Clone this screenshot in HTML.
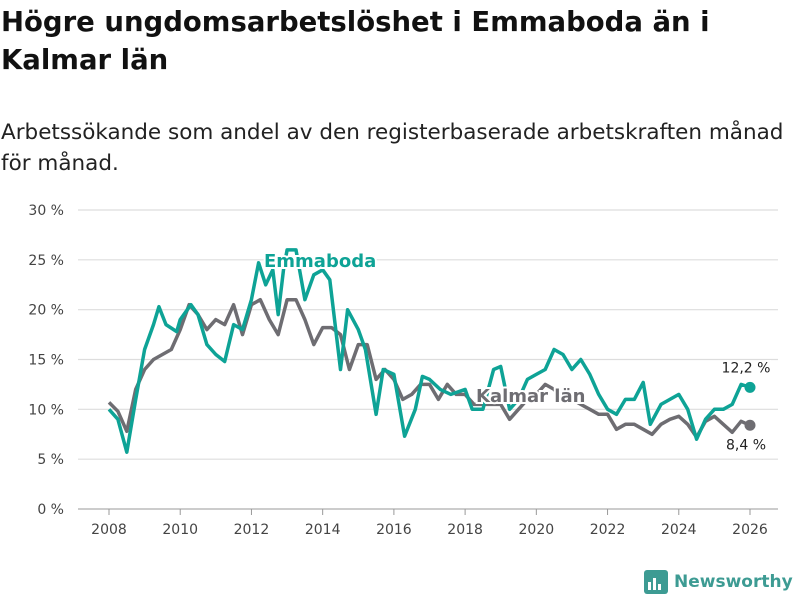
<!DOCTYPE html>
<html><head><meta charset="utf-8"><style>
body{margin:0;width:800px;height:600px;background:#fff;font-family:"DejaVu Sans","Liberation Sans",sans-serif;overflow:hidden;position:relative}
h1{position:absolute;left:1px;top:3px;margin:0;font-size:27.5px;line-height:38px;font-weight:bold;color:#111;white-space:nowrap;letter-spacing:0px}
.sub{position:absolute;left:1px;top:117px;font-size:21.5px;line-height:31px;color:#222;white-space:nowrap}
svg{position:absolute;left:0;top:0}
</style></head><body>
<h1>Högre ungdomsarbetslöshet i Emmaboda än i<br>Kalmar län</h1>
<div class="sub">Arbetssökande som andel av den registerbaserade arbetskraften månad<br>för månad.</div>
<svg id="c" width="800" height="600"></svg>
<script>
const yTicks=[0,5,10,15,20,25,30];
const xTicks=[2008,2010,2012,2014,2016,2018,2020,2022,2024,2026];
const emmaDates=[2008.0,2008.25,2008.5,2008.75,2009.0,2009.25,2009.4,2009.6,2009.9,2010.0,2010.3,2010.5,2010.75,2011.0,2011.25,2011.5,2011.75,2012.0,2012.2,2012.4,2012.6,2012.75,2012.9,2013.0,2013.25,2013.5,2013.75,2014.0,2014.2,2014.5,2014.7,2015.0,2015.2,2015.5,2015.7,2016.0,2016.3,2016.6,2016.8,2017.0,2017.3,2017.6,2018.0,2018.2,2018.5,2018.8,2019.0,2019.25,2019.5,2019.75,2020.0,2020.25,2020.5,2020.75,2021.0,2021.25,2021.5,2021.75,2022.0,2022.25,2022.5,2022.75,2023.0,2023.2,2023.5,2023.75,2024.0,2024.25,2024.5,2024.75,2025.0,2025.25,2025.5,2025.75,2026.0];
const emmaValues=[10,9,5.7,11,16,18.5,20.3,18.5,17.8,19,20.5,19.5,16.5,15.5,14.8,18.5,18,21,24.7,22.5,24,19.5,24,26,26,21,23.5,24,23,14,20,18,16,9.5,14,13.5,7.3,10,13.3,13,12,11.5,12,10,10,14,14.3,10,11,13,13.5,14,16,15.5,14,15,13.5,11.5,10,9.5,11,11,12.7,8.5,10.5,11,11.5,10,7,9,10,10,10.5,12.5,12.2];
const kalmarDates=[2008.0,2008.25,2008.5,2008.75,2009.0,2009.25,2009.5,2009.75,2010.0,2010.25,2010.5,2010.75,2011.0,2011.25,2011.5,2011.75,2012.0,2012.25,2012.5,2012.75,2013.0,2013.25,2013.5,2013.75,2014.0,2014.25,2014.5,2014.75,2015.0,2015.25,2015.5,2015.75,2016.0,2016.25,2016.5,2016.75,2017.0,2017.25,2017.5,2017.75,2018.0,2018.25,2018.5,2018.75,2019.0,2019.25,2019.5,2019.75,2020.0,2020.25,2020.5,2020.75,2021.0,2021.25,2021.5,2021.75,2022.0,2022.25,2022.5,2022.75,2023.0,2023.25,2023.5,2023.75,2024.0,2024.25,2024.5,2024.75,2025.0,2025.25,2025.5,2025.75,2026.0];
const kalmarValues=[10.7,9.8,7.8,12,14,15,15.5,16,18,20.5,19.5,18,19,18.5,20.5,17.5,20.5,21,19,17.5,21,21,19,16.5,18.2,18.2,17.5,14,16.5,16.5,13,14,13,11,11.5,12.5,12.5,11,12.5,11.5,11.5,10.5,10.5,10.5,10.5,9,10,11,11.5,12.5,12,11,11,10.5,10,9.5,9.5,8,8.5,8.5,8,7.5,8.5,9,9.3,8.5,7.2,8.8,9.3,8.5,7.7,8.8,8.4];
const NS="http://www.w3.org/2000/svg";
const svg=document.getElementById('c');
const X=v=>109+(v-2008)*(641/18);
const Y=v=>509-v*(299/30);
function mk(t,a){const e=document.createElementNS(NS,t);for(const k in a)e.setAttribute(k,a[k]);svg.appendChild(e);return e;}
yTicks.forEach(t=>{
  const l=mk('line',{x1:78,x2:778,y1:Y(t),y2:Y(t),stroke:t===0?'#bbb':'#ddd','stroke-width':t===0?1.5:1.2});
  
  
  const tx=mk('text',{x:64,y:Y(t)+5,'text-anchor':'end','font-size':14,fill:'#444'});
  tx.textContent=t+' %';
  
  
});
xTicks.forEach(t=>{
  const l=mk('line',{x1:X(t),x2:X(t),y1:509,y2:515,stroke:'#999'});
  
  
  const tx=mk('text',{x:X(t),y:534,'text-anchor':'middle','font-size':14,fill:'#444'});
  tx.textContent=t;
  
  
});
function line(d,v,c,name){
  const p=mk('path',{d:d.map((x,i)=>(i?'L':'M')+X(x).toFixed(1)+','+Y(v[i]).toFixed(1)).join(''),fill:'none',stroke:c,'stroke-width':3.5,'stroke-linejoin':'round'});
  
  
  const n=d.length-1;
  const dot=mk('circle',{cx:X(d[n]),cy:Y(v[n]),r:5.5,fill:c});
  
  
}
line(kalmarDates,kalmarValues,'#6e6d72','kalmar-line');
line(emmaDates,emmaValues,'#0ea396','emmaboda-line');
function lab(x,y,t,c,s,w,anchor,name){
  const e=mk('text',{x:x,y:y,'font-size':s,'font-weight':w,fill:c,'text-anchor':anchor,stroke:'#fff','stroke-width':4,'paint-order':'stroke'});
  e.textContent=t;
  
  
}
lab(264,267,'Emmaboda','#0ea396',18,'bold','start','emmaboda-label');
lab(476,402,'Kalmar län','#6e6d72',18,'bold','start','kalmar-label');
const n1=emmaValues.length-1,n2=kalmarValues.length-1;
lab(746,Y(emmaValues[n1])-15,emmaValues[n1].toFixed(1).replace('.',',')+' %','#222',14,'normal','middle','emmaboda-end-value');
lab(746,Y(kalmarValues[n2])+24,kalmarValues[n2].toFixed(1).replace('.',',')+' %','#222',14,'normal','middle','kalmar-end-value');
</script>
<div style="position:absolute;left:644px;top:570px;display:flex;align-items:center;gap:6px">
<svg width="24" height="24" style="position:static"><rect x="0" y="0" width="24" height="24" rx="3" fill="#3d9b93"/><rect x="4" y="12" width="3" height="8" fill="#fff"/><rect x="9" y="8" width="3" height="12" fill="#fff"/><rect x="14" y="14" width="3" height="6" fill="#fff"/></svg>
<span style="font-size:17px;font-weight:bold;color:#3d9b93">Newsworthy</span></div>
</body></html>
